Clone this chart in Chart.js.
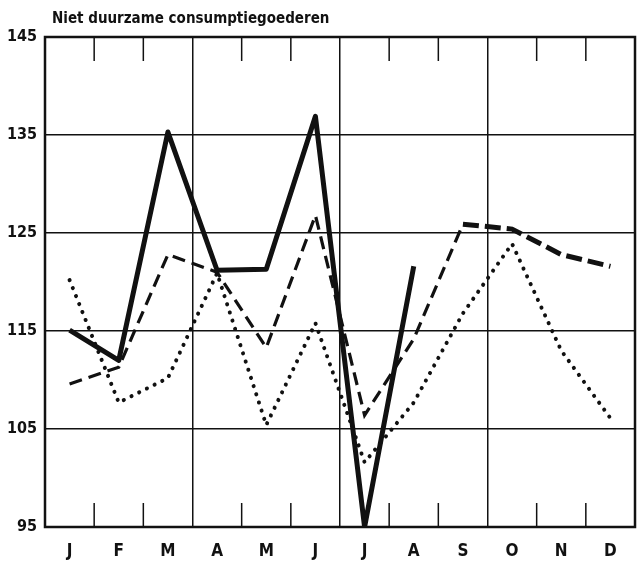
<!DOCTYPE html>
<html>
<head>
<meta charset="utf-8">
<script src="https://cdn.jsdelivr.net/npm/chart.js@4.4.1/dist/chart.umd.min.js"></script>
<style>
  html, body { margin: 0; padding: 0; background: #fff; }
  #wrap { width: 641px; height: 562px; }
</style>
</head>
<body>
<div id="wrap"><canvas id="chart" width="641" height="562"></canvas></div>
<script>
// values
const titleText = 'Niet duurzame consumptiegoederen';
const months = ['J', 'F', 'M', 'A', 'M', 'J', 'J', 'A', 'S', 'O', 'N', 'D'];
const yTicks = [95, 105, 115, 125, 135, 145];
const solidSeries = [115.1, 112.0, 135.3, 121.2, 121.3, 136.9, 95.0, 121.6];
const dashedSeries = [109.6, 111.3, 122.8, 121.0, 113.3, 126.8, 106.4, 114.2, 125.9, 125.4, 122.8, 121.6];
const dottedSeries = [120.2, 107.7, 110.2, 120.9, 105.4, 115.8, 101.6, 107.7, 116.8, 123.9, 113.0, 106.1];
const quarterLines = [3, 6, 9];

const FONT = "'DejaVu Sans Condensed', 'Liberation Sans', sans-serif";
const INK = '#111';

// frame, short month ticks and title
const framePlugin = {
  id: 'frame',
  afterDraw(chart) {
    const { ctx, chartArea: a, scales: { x } } = chart;
    ctx.save();
    ctx.strokeStyle = INK;
    ctx.lineWidth = 1.5;
    for (let i = 1; i < months.length; i++) {
      if (quarterLines.includes(i)) continue;
      const px = (x.getPixelForTick(i - 1) + x.getPixelForTick(i)) / 2;
      ctx.beginPath();
      ctx.moveTo(px, a.top);
      ctx.lineTo(px, a.top + 24);
      ctx.moveTo(px, a.bottom);
      ctx.lineTo(px, a.bottom - 24);
      ctx.stroke();
    }
    ctx.lineWidth = 2.5;
    ctx.strokeRect(a.left, a.top, a.right - a.left, a.bottom - a.top);

    ctx.fillStyle = INK;
    ctx.font = 'bold 15px ' + FONT;
    ctx.letterSpacing = '0px';
    ctx.textBaseline = 'alphabetic';
    ctx.textAlign = 'left';
    ctx.fillText(titleText, 52, 23);
    ctx.restore();
  }
};

new Chart(document.getElementById('chart'), {
  type: 'line',
  data: {
    labels: months,
    datasets: [
      {
        data: solidSeries,
        borderColor: INK,
        borderWidth: 5,
        borderJoinStyle: 'round',
        pointRadius: 0
      },
      {
        data: dashedSeries,
        borderColor: INK,
        borderWidth: 3.2,
        borderDash: [13, 7],
        pointRadius: 0,
        segment: {
          borderWidth: ctx => ctx.p0DataIndex >= 8 ? 5 : 3.2,
          borderDash: ctx => ctx.p0DataIndex >= 8 ? [16, 6] : [13, 7]
        }
      },
      {
        data: dottedSeries,
        borderColor: INK,
        borderWidth: 4,
        borderDash: [0.1, 8.5],
        borderCapStyle: 'round',
        pointRadius: 0
      }
    ]
  },
  options: {
    responsive: false,
    animation: false,
    layout: { padding: { top: 37, right: 6, bottom: 0, left: 0 } },
    plugins: {
      legend: { display: false },
      tooltip: { enabled: false }
    },
    scales: {
      x: {
        offset: true,
        grid: {
          offset: true,
          drawTicks: false,
          lineWidth: 1.5,
          color: ctx => quarterLines.includes(ctx.index) ? INK : 'rgba(0,0,0,0)'
        },
        border: { display: false },
        ticks: {
          color: INK,
          padding: 14,
          maxRotation: 0,
          autoSkip: false,
          font: { family: FONT, size: 17, weight: 'bold' }
        },
        afterFit: scale => { scale.height = 35; }
      },
      y: {
        min: yTicks[0],
        max: yTicks[yTicks.length - 1],
        afterBuildTicks: scale => { scale.ticks = yTicks.map(v => ({ value: v })); },
        grid: { drawTicks: false, lineWidth: 1.5, color: INK },
        border: { display: false },
        ticks: {
          color: INK,
          padding: 8,
          font: { family: FONT, size: 16, weight: 'bold' }
        },
        afterFit: scale => { scale.width = 45; }
      }
    }
  },
  plugins: [framePlugin]
});
</script>
</body>
</html>
